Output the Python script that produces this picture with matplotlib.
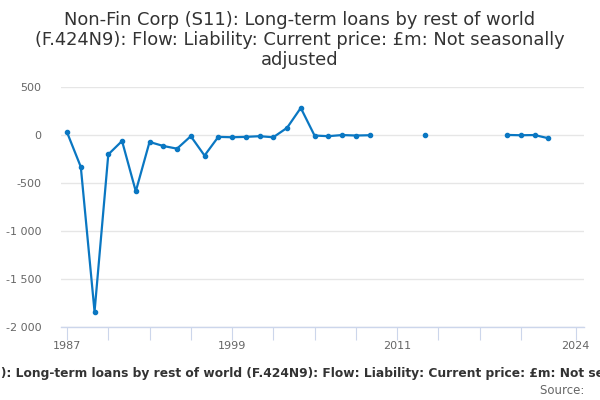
import numpy as np
import matplotlib
matplotlib.use("Agg")
import matplotlib.pyplot as plt

years = list(range(1987, 2025))
values = [30, -330, -1840, -200, -60, -585, -70, -112, -140, -10, -212, -17, -21, -17, -10, -21,
          77, 285, -3, -10, 2, -3, 0,
          np.nan, np.nan, np.nan, 3, np.nan, np.nan, np.nan, np.nan, np.nan,
          3, 0, 2, -31, np.nan, np.nan]
x_ticks = [1987, 1990, 1993, 1996, 1999, 2002, 2005, 2008, 2011, 2014, 2017, 2020, 2024]
x_labels = {1987: "1987", 1999: "1999", 2011: "2011", 2024: "2024"}
y_ticks = [500, 0, -500, -1000, -1500, -2000]
y_labels = ["500", "0", "-500", "-1 000", "-1 500", "-2 000"]

title = ("Non-Fin Corp (S11): Long-term loans by rest of world\n"
         "(F.424N9): Flow: Liability: Current price: £m: Not seasonally\nadjusted")
caption = ("Non-Fin Corp (S11): Long-term loans by rest of world (F.424N9): Flow: "
           "Liability: Current price: £m: Not seasonally adjusted")

fig = plt.figure(figsize=(6, 4), dpi=100)
ax = fig.add_axes([61/600, 1-327/400, (584-61)/600, (327-87.3)/400])

v = np.array(values, dtype=float)
ax.plot(years, v, color="#0a77c2", lw=1.6, marker="o", markersize=3, zorder=3)

ax.set_xlim(1986.56, 2024.6)
ax.set_ylim(-2000, 500)
ax.set_yticks(y_ticks)
ax.set_yticklabels(y_labels)
ax.set_xticks(x_ticks)
ax.set_xticklabels([x_labels.get(t, "") for t in x_ticks])

for s in ["top", "right", "left"]:
    ax.spines[s].set_visible(False)
ax.spines["bottom"].set_color("#ccd6eb")
ax.spines["bottom"].set_linewidth(1)
ax.grid(axis="y", color="#e6e6e6", lw=1)
ax.set_axisbelow(True)
ax.tick_params(axis="y", length=0, labelsize=8, labelcolor="#666666", pad=14)
ax.tick_params(axis="x", length=9, color="#ccd6eb", labelsize=8, labelcolor="#666666", pad=1)

fig.text(0.5, 1-40/400, title, ha="center", va="center", fontsize=12.9, color="#333333",
         linespacing=1.15)
fig.text(0.5, 1-374/400, caption, ha="center", va="center", fontsize=8.85,
         fontweight="bold", color="#333333")
fig.text(588/600, 1-391/400, "Source: ", ha="right", va="center", fontsize=8.5, color="#666666")

fig.savefig("out.png", dpi=100)
